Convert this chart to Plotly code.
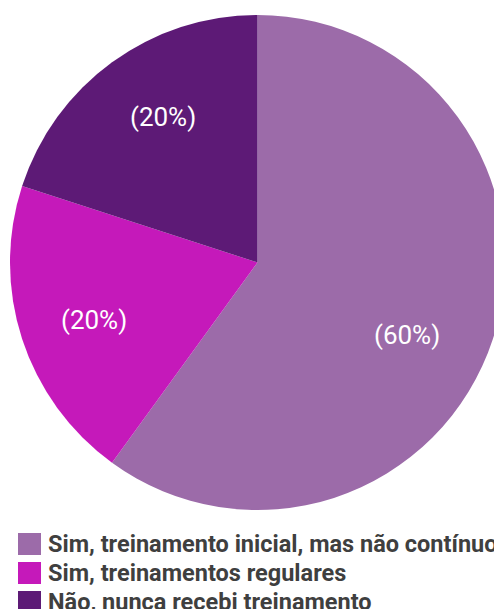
import math
import plotly.graph_objects as go

categories = ["Sim, treinamento inicial, mas não contínuo", "Sim, treinamentos regulares", "Não, nunca recebi treinamento"]
values = [60, 20, 20]
colors = ["#9C6BA9", "#C519BA", "#5D1A76"]

W, H = 515, 609
cx, cy, R = 257.5, 262.5, 247.5

fig = go.Figure(go.Pie(
    labels=categories, values=values, sort=False, direction="clockwise", rotation=0,
    marker=dict(colors=colors, line=dict(width=0)),
    textinfo="none", showlegend=False, hoverinfo="label+percent",
    domain=dict(x=[0, 1], y=[(H - (cy + R)) / H, (H - (cy - R)) / H]),
))

# slice labels placed along each slice's bisector (label style tweaks: radius fraction, angular shift)
label_r = [0.67, 0.70, 0.70]
label_shift = [8, -1.5, 3]
shapes, annots = [], []
total = sum(values)
start = 0.0
for i, v in enumerate(values):
    span = 360.0 * v / total
    ang = math.radians(start + span / 2 + label_shift[i])
    start += span
    px = cx + label_r[i] * R * math.sin(ang)
    py = cy - label_r[i] * R * math.cos(ang)
    pct = round(100 * v / total)
    annots.append(dict(text=f"({pct}%)", xref="paper", yref="paper", x=px / W, y=(H - py) / H,
                       xanchor="center", yanchor="middle", showarrow=False,
                       font=dict(family="Roboto", size=26, color="white")))

row_y = [544, 573, 602]
for i, (lab, col) in enumerate(zip(categories, colors)):
    y = row_y[i]
    shapes.append(dict(type="rect", xref="paper", yref="paper",
                       x0=18 / W, x1=41 / W, y0=(H - (y + 11)) / H, y1=(H - (y - 11)) / H,
                       fillcolor=col, line=dict(width=0)))
    annots.append(dict(text="<b>" + lab + "</b>", xref="paper", yref="paper", x=46 / W, y=(H - y) / H,
                       xanchor="left", yanchor="middle", showarrow=False,
                       font=dict(family="Roboto", size=23.5, color="#3f3f3f")))

fig.update_layout(width=W, height=H, margin=dict(l=0, r=0, t=0, b=0),
                  paper_bgcolor="white", plot_bgcolor="white",
                  shapes=shapes, annotations=annots)

fig.write_html("out.html", config={"displayModeBar": False},
               post_script="document.body.style.margin='0';document.body.style.overflow='hidden';document.documentElement.style.overflow='hidden';")
